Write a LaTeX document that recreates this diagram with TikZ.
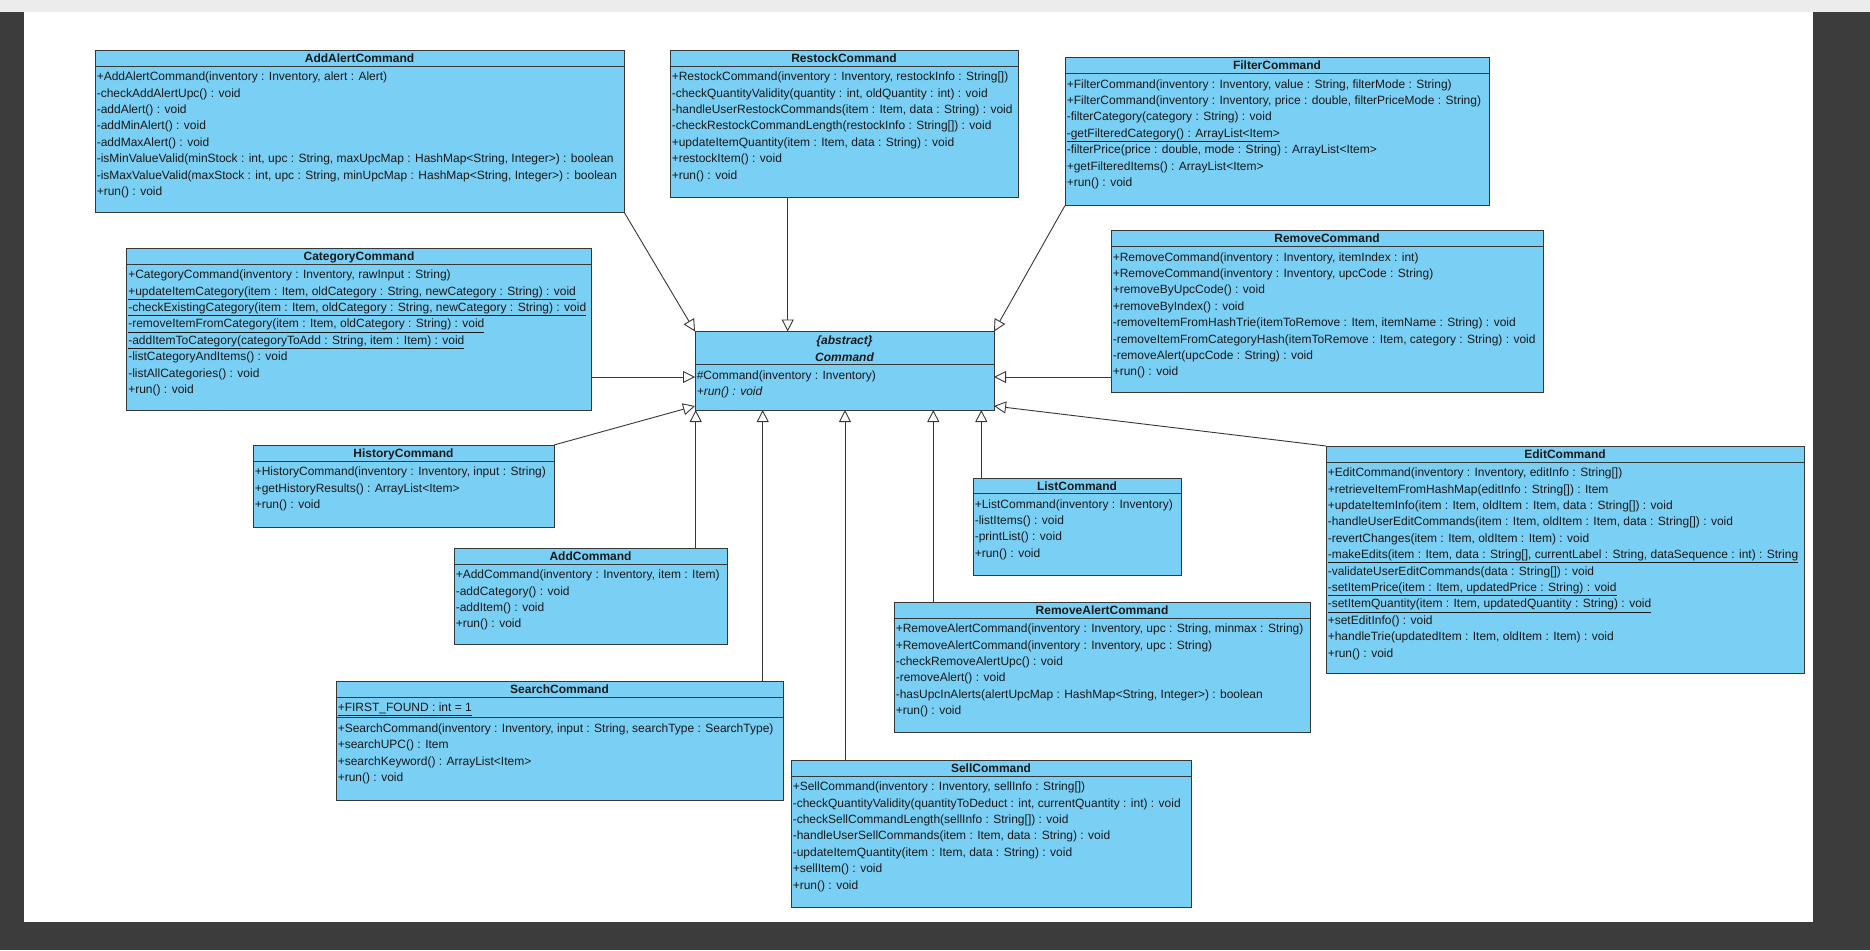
\documentclass[tikz,border=0pt]{standalone}
\usepackage{fontspec}
\setmainfont{Liberation Sans}
\usetikzlibrary{arrows.meta,calc}
\definecolor{clsfill}{RGB}{122,207,245}
\definecolor{clsline}{RGB}{55,55,55}
\definecolor{framegray}{RGB}{60,60,60}
\definecolor{topbar}{RGB}{236,236,236}
\definecolor{txt}{RGB}{25,25,25}
\tikzset{
 clsbox/.style={draw=clsline, fill=clsfill, line width=0.9pt, inner sep=0pt, outer sep=0pt, rectangle},
 clstitle/.style={inner sep=0pt, font=\fontsize{12}{16.4}\selectfont\bfseries, text=txt},
 clsbody/.style={inner sep=0pt, align=left, font=\fontsize{12}{16.4}\selectfont, text=txt},
 divline/.style={draw=clsline, line width=0.9pt},
 gen/.style={draw=clsline, line width=0.9pt, -{Triangle[open, length=12pt, width=12pt, fill=white]}},
}
% name, x, y, width, height, divider offset, title, body
\newcommand{\UMLcls}[8]{%
 \node[clsbox, minimum width=#4pt, minimum height=#5pt, anchor=north west] (#1) at (#2pt,-#3pt) {};
 \node[clstitle, anchor=base] (#1-t) at ($(#1.north)+(0,-12.3pt)$) {#7};
 \draw[divline] ($(#1.north west)+(0,-#6pt)$) -- ($(#1.north east)+(0,-#6pt)$);
 \node[clsbody, anchor=north west] (#1-b) at ($(#1.north west)+(1.6pt,-#6pt-3pt)$) {\strut#8};
}
\begin{document}
\begin{tikzpicture}
\useasboundingbox (0,0) rectangle (1870pt,-950pt);
\fill[framegray] (0,0) rectangle (1870pt,-950pt);
\fill[white] (24pt,-12pt) rectangle (1813pt,-922pt);
\fill[topbar] (0,0) rectangle (1870pt,-12pt);

\UMLcls{addalert}{95}{50}{529}{162}{16}{AddAlertCommand}{%
+AddAlertCommand(inventory : Inventory, alert : Alert)\\
-checkAddAlertUpc() : void\\
-addAlert() : void\\
-addMinAlert() : void\\
-addMaxAlert() : void\\
-isMinValueValid(minStock : int, upc : String, maxUpcMap : HashMap<String, Integer>) : boolean\\
-isMaxValueValid(maxStock : int, upc : String, minUpcMap : HashMap<String, Integer>) : boolean\\
+run() : void}

\UMLcls{restock}{670}{50}{348}{147}{16}{RestockCommand}{%
+RestockCommand(inventory : Inventory, restockInfo : String[])\\
-checkQuantityValidity(quantity : int, oldQuantity : int) : void\\
-handleUserRestockCommands(item : Item, data : String) : void\\
-checkRestockCommandLength(restockInfo : String[]) : void\\
+updateItemQuantity(item : Item, data : String) : void\\
+restockItem() : void\\
+run() : void}

\UMLcls{filter}{1065}{57.5}{424}{148}{16}{FilterCommand}{%
+FilterCommand(inventory : Inventory, value : String, filterMode : String)\\
+FilterCommand(inventory : Inventory, price : double, filterPriceMode : String)\\
-filterCategory(category : String) : void\\
\underline{-getFilteredCategory() : ArrayList<Item>}\\
-filterPrice(price : double, mode : String) : ArrayList<Item>\\
+getFilteredItems() : ArrayList<Item>\\
+run() : void}

\UMLcls{category}{126.5}{248}{465}{162}{16}{CategoryCommand}{%
+CategoryCommand(inventory : Inventory, rawInput : String)\\
\underline{+updateItemCategory(item : Item, oldCategory : String, newCategory : String) : void}\\
\underline{-checkExistingCategory(item : Item, oldCategory : String, newCategory : String) : void}\\
\underline{-removeItemFromCategory(item : Item, oldCategory : String) : void}\\
\underline{-addItemToCategory(categoryToAdd : String, item : Item) : void}\\
-listCategoryAndItems() : void\\
-listAllCategories() : void\\
+run() : void}

\UMLcls{remove}{1111}{230}{432}{162}{16.5}{RemoveCommand}{%
+RemoveCommand(inventory : Inventory, itemIndex : int)\\
+RemoveCommand(inventory : Inventory, upcCode : String)\\
+removeByUpcCode() : void\\
+removeByIndex() : void\\
-removeItemFromHashTrie(itemToRemove : Item, itemName : String) : void\\
-removeItemFromCategoryHash(itemToRemove : Item, category : String) : void\\
-removeAlert(upcCode : String) : void\\
+run() : void}

\UMLcls{history}{253}{445}{301}{82}{16}{HistoryCommand}{%
+HistoryCommand(inventory : Inventory, input : String)\\
+getHistoryResults() : ArrayList<Item>\\
+run() : void}

\UMLcls{add}{454}{548}{273}{96}{16}{AddCommand}{%
+AddCommand(inventory : Inventory, item : Item)\\
-addCategory() : void\\
-addItem() : void\\
+run() : void}

\UMLcls{list}{973}{478}{208}{97}{15.5}{ListCommand}{%
+ListCommand(inventory : Inventory)\\
-listItems() : void\\
-printList() : void\\
+run() : void}

\UMLcls{edit}{1326}{446}{478}{227}{16}{EditCommand}{%
+EditCommand(inventory : Inventory, editInfo : String[])\\
+retrieveItemFromHashMap(editInfo : String[]) : Item\\
+updateItemInfo(item : Item, oldItem : Item, data : String[]) : void\\
-handleUserEditCommands(item : Item, oldItem : Item, data : String[]) : void\\
-revertChanges(item : Item, oldItem : Item) : void\\
\underline{-makeEdits(item : Item, data : String[], currentLabel : String, dataSequence : int) : String}\\
-validateUserEditCommands(data : String[]) : void\\
\underline{-setItemPrice(item : Item, updatedPrice : String) : void}\\
\underline{-setItemQuantity(item : Item, updatedQuantity : String) : void}\\
+setEditInfo() : void\\
+handleTrie(updatedItem : Item, oldItem : Item) : void\\
+run() : void}

\UMLcls{ralert}{894}{602}{416}{130}{16}{RemoveAlertCommand}{%
+RemoveAlertCommand(inventory : Inventory, upc : String, minmax : String)\\
+RemoveAlertCommand(inventory : Inventory, upc : String)\\
-checkRemoveAlertUpc() : void\\
-removeAlert() : void\\
-hasUpcInAlerts(alertUpcMap : HashMap<String, Integer>) : boolean\\
+run() : void}

\UMLcls{sell}{791}{760}{400}{147}{16}{SellCommand}{%
+SellCommand(inventory : Inventory, sellInfo : String[])\\
-checkQuantityValidity(quantityToDeduct : int, currentQuantity : int) : void\\
-checkSellCommandLength(sellInfo : String[]) : void\\
-handleUserSellCommands(item : Item, data : String) : void\\
-updateItemQuantity(item : Item, data : String) : void\\
+sellItem() : void\\
+run() : void}

% SearchCommand (with attribute compartment)
\UMLcls{search}{336}{681}{447}{119}{16}{SearchCommand}{%
\underline{+FIRST\_FOUND : int = 1}}
\draw[divline] ($(search.north west)+(0,-36.7pt)$) -- ($(search.north east)+(0,-36.7pt)$);
\node[clsbody, anchor=north west] (search-m) at ($(search.north west)+(1.6pt,-39.7pt)$) {\strut+SearchCommand(inventory : Inventory, input : String, searchType : SearchType)\\
+searchUPC() : Item\\
+searchKeyword() : ArrayList<Item>\\
+run() : void};

% Command (abstract)
\node[clsbox, minimum width=299pt, minimum height=78.5pt, anchor=north west] (cmd) at (695pt,-331.5pt) {};
\node[clstitle, anchor=base] (cmd-t1) at ($(cmd.north)+(0,-12.8pt)$) {\itshape\{abstract\}};
\node[clstitle, anchor=base] (cmd-t2) at ($(cmd.north)+(0,-29.5pt)$) {\itshape Command};
\draw[divline] ($(cmd.north west)+(0,-33pt)$) -- ($(cmd.north east)+(0,-33pt)$);
\node[clsbody, anchor=north west] (cmd-b) at ($(cmd.north west)+(1.6pt,-36pt)$) {\strut\#Command(inventory : Inventory)\\
\textit{+run() : void}};

% attach points
\coordinate (restockB) at ($(restock.south west)+(117.7pt,0)$);
\coordinate (categoryR) at ($(category.north east)+(0,-129pt)$);
\coordinate (removeL) at ($(remove.north west)+(0,-147pt)$);
\coordinate (cmdWlow) at ($(cmd.south west)+(0,4pt)$);
\coordinate (cmdElow) at ($(cmd.south east)+(0,4pt)$);
\coordinate (addT) at ($(add.north west)+(241.7pt,0)$);
\coordinate (searchT) at ($(search.north west)+(426.7pt,0)$);
\coordinate (sellT) at ($(sell.north west)+(54pt,0)$);
\coordinate (ralertT) at ($(ralert.north west)+(39.3pt,0)$);
\coordinate (listT) at ($(list.north west)+(8.3pt,0)$);

% generalizations
\draw[gen] (addalert.south east) -- (cmd.north west);
\draw[gen] (restockB) -- (restockB |- cmd.north);
\draw[gen] (filter.south west) -- (cmd.north east);
\draw[gen] (categoryR) -- (categoryR -| cmd.west);
\draw[gen] (removeL) -- (removeL -| cmd.east);
\draw[gen] (history.north east) -- (cmdWlow);
\draw[gen] (edit.north west) -- (cmdElow);
\draw[gen] (addT) -- (addT |- cmd.south);
\draw[gen] (searchT) -- (searchT |- cmd.south);
\draw[gen] (sellT) -- (sellT |- cmd.south);
\draw[gen] (ralertT) -- (ralertT |- cmd.south);
\draw[gen] (listT) -- (listT |- cmd.south);
\end{tikzpicture}
\end{document}
